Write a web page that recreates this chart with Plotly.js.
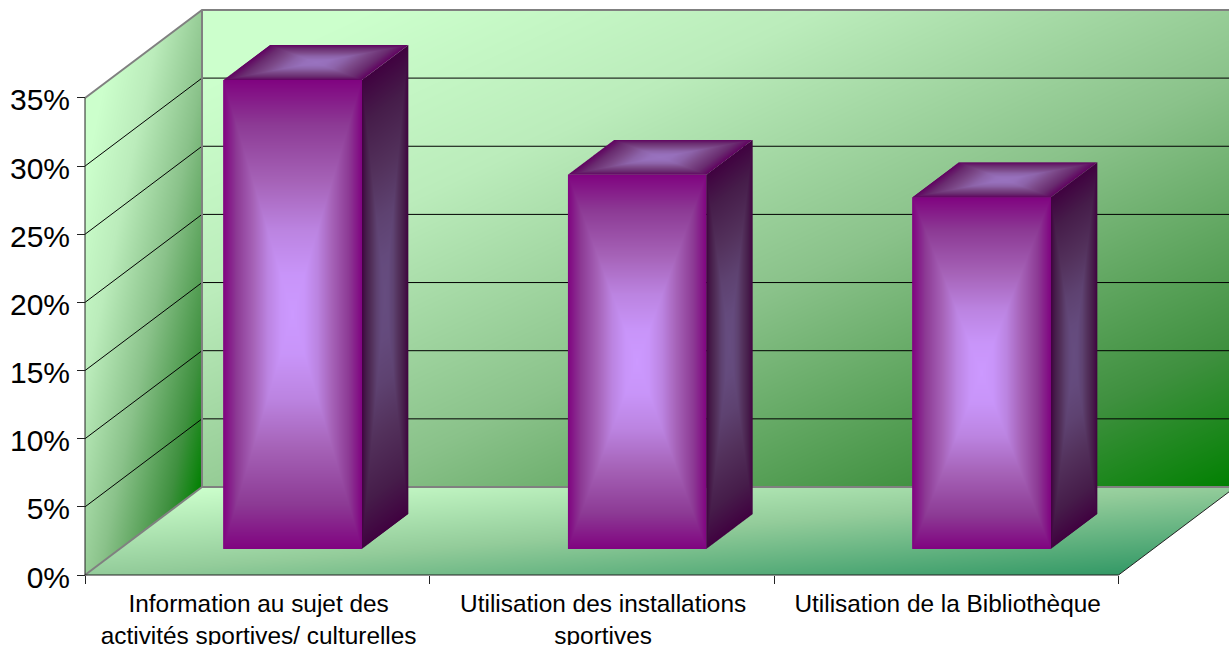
<!DOCTYPE html>
<html>
<head>
<meta charset="utf-8">
<script src="https://cdn.plot.ly/plotly-3.0.1.min.js"></script>
<style>html,body{margin:0;padding:0;background:#fff;overflow:hidden}#chart{width:1229px;height:645px}</style>
</head>
<body>
<div id="chart"></div>
<script>
// ---- data ----
var categories = ["Information au sujet des<br>activités sportives/ culturelles",
                  "Utilisation des installations<br>sportives",
                  "Utilisation de la Bibliothèque"];
var values = [34.4, 27.45, 25.8];
var yTicks = [0, 5, 10, 15, 20, 25, 30, 35];
var yLabels = ["0%", "5%", "10%", "15%", "20%", "25%", "30%", "35%"];
var xBoundaries = [0, 1, 2, 3];

// ---- styles ----
var W = 1229, H = 645;
var x0Px = 85, catPx = 344.5, y0Px = 575, pctPx = 13.63;
var depthDx = 117 / catPx, depthDy = 88 / pctPx;     // oblique offset of the full depth, in axis units
var barWidth = 0.402, barFront = 0.297, barBack = 0.693, barShift = 0.002;
var yMax = 35;
var wallStops = [[0,[204,255,204]],[0.08,[204,255,204]],[0.3,[187,236,187]],[0.57,[138,194,138]],[0.85,[63,144,63]],[1,[0,128,0]]];
var floorStops = [[0,[204,255,204]],[0.5,[147,204,154]],[1,[51,153,102]]];
var barDark = [128,0,128], barLight = [204,153,255];
// share of the light colour per channel, from the centre (0) to the edge (1) of a face
var glowCurve = [[0,[1,1,1]],[0.17,[0.95,0.97,0.95]],[0.36,[0.78,0.86,0.76]],[0.57,[0.49,0.64,0.43]],[0.81,[0.16,0.38,0.16]],[1,[0,0.02,0]]];

function pxX(x){return x0Px + catPx*x;}
function pxY(y){return y0Px - pctPx*y;}
function unX(p){return (p-x0Px)/catPx;}
function unY(p){return (y0Px-p)/pctPx;}
function ramp(stops,t){
  t=Math.max(0,Math.min(1,t));
  for(var i=1;i<stops.length;i++){
    if(t<=stops[i][0]){
      var a=stops[i-1],b=stops[i],f=(t-a[0])/((b[0]-a[0])||1);
      return [0,1,2].map(function(k){return a[1][k]+(b[1][k]-a[1][k])*f;});
    }
  }
  return stops[stops.length-1][1];
}
// A face is a parallelogram: corner o plus edges a and b, in axis units.
function faceImage(o,a,b,colorAt,layer){
  var ox=pxX(o[0]),oy=pxY(o[1]);
  var ax=a[0]*catPx,ay=-a[1]*pctPx,bx=b[0]*catPx,by=-b[1]*pctPx;
  var xs=[ox,ox+ax,ox+bx,ox+ax+bx],ys=[oy,oy+ay,oy+by,oy+ay+by];
  var l=Math.floor(Math.min.apply(null,xs)),r=Math.ceil(Math.max.apply(null,xs));
  var t=Math.floor(Math.min.apply(null,ys)),bt=Math.ceil(Math.max.apply(null,ys));
  var w=r-l,h=bt-t,det=ax*by-ay*bx;
  var cv=document.createElement('canvas');cv.width=w;cv.height=h;
  var ctx=cv.getContext('2d'),img=ctx.createImageData(w,h),d=img.data;
  var sub=[1/6,1/2,5/6];
  for(var j=0;j<h;j++){for(var i=0;i<w;i++){
    var hit=0;
    for(var p=0;p<3;p++)for(var q=0;q<3;q++){
      var dx=l+i+sub[p]-ox,dy=t+j+sub[q]-oy;
      var u=(dx*by-dy*bx)/det,v=(ax*dy-ay*dx)/det;
      if(u>=0&&u<=1&&v>=0&&v<=1)hit++;
    }
    if(!hit)continue;
    var dx2=l+i+0.5-ox,dy2=t+j+0.5-oy;
    var uc=Math.max(0,Math.min(1,(dx2*by-dy2*bx)/det)),vc=Math.max(0,Math.min(1,(ax*dy2-ay*dx2)/det));
    var c=colorAt(uc,vc),n=4*(j*w+i);
    d[n]=c[0];d[n+1]=c[1];d[n+2]=c[2];d[n+3]=Math.round(255*hit/9);
  }}
  ctx.putImageData(img,0,0);
  return {source:cv.toDataURL('image/png'),xref:'x',yref:'y',x:unX(l),y:unY(t),
          sizex:w/catPx,sizey:h/pctPx,xanchor:'left',yanchor:'top',sizing:'stretch',layer:layer,opacity:1};
}
function centerGlow(mult){
  return function(u,v){
    var m=ramp(glowCurve,Math.max(Math.abs(2*u-1),Math.abs(2*v-1)));
    return [0,1,2].map(function(i){return (barDark[i]+(barLight[i]-barDark[i])*m[i])*mult;});
  };
}

var images=[];
// floor: o = back-left, a = along x, b = towards the viewer
images.push(faceImage([depthDx,depthDy],[3,0],[-depthDx,-depthDy],function(u,v){return ramp(floorStops,(u+v)/2);},'below'));
// back wall
images.push(faceImage([depthDx,yMax+depthDy],[3,0],[0,-yMax],function(u,v){return ramp(wallStops,(u+v)/2);},'below'));
// left wall
images.push(faceImage([0,yMax],[depthDx,depthDy],[0,-yMax],function(u,v){return ramp(wallStops,(u+v)/2);},'below'));

// bars
var barX=values.map(function(_,i){return i+0.5+barShift+barFront*depthDx;});
var barBase=values.map(function(){return barFront*depthDy;});
var dd=barBack-barFront;
values.forEach(function(val,i){
  var lx=i+0.5+barShift-barWidth/2+barFront*depthDx, by=barFront*depthDy;
  images.push(faceImage([lx,by+val],[barWidth,0],[0,-val],centerGlow(1),'above'));
  images.push(faceImage([lx+barWidth,by+val],[dd*depthDx,dd*depthDy],[0,-val],centerGlow(0.5),'above'));
  images.push(faceImage([lx+dd*depthDx,by+val+dd*depthDy],[barWidth,0],[-dd*depthDx,-dd*depthDy],centerGlow(0.75),'above'));
});

// gridlines
var gx=[],gy=[];
yTicks.slice(1,-1).forEach(function(v){
  gx.push(0,depthDx,3+depthDx,null);gy.push(v,v+depthDy,v+depthDy,null);
});
function line(xs,ys,color,width){
  return {type:'scatter',mode:'lines',x:xs,y:ys,line:{color:color,width:width},hoverinfo:'skip',showlegend:false};
}
var traces=[
  line(gx,gy,'#000000',1),
  // grey frame of the walls and the floor
  line([0,depthDx,3+depthDx,null,depthDx,depthDx,3+depthDx,null,0,depthDx],
       [yMax,yMax+depthDy,yMax+depthDy,null,yMax+depthDy,depthDy,depthDy,null,0,depthDy],'#808080',2),
  // axis lines and the right edge of the floor
  line([0,0,null,0,3,3+depthDx],[0,yMax,null,0,0,depthDy],'#222222',1),
  {type:'bar',xaxis:'x2',yaxis:'y',x:barX,y:values,base:barBase,width:barWidth,
   marker:{color:'#800080',line:{width:0}},hoverinfo:'skip',showlegend:false}
];

var xr=[unX(0),unX(W)], yr=[unY(H),unY(0)];
var xPos=(H-y0Px)/H, yPos=x0Px/W;
var layout={
  width:W,height:H,margin:{l:0,r:0,t:0,b:0},paper_bgcolor:'#ffffff',plot_bgcolor:'#ffffff',
  showlegend:false,hovermode:false,images:images,
  font:{family:'"Liberation Sans",Arial,sans-serif',color:'#000000'},
  xaxis:{domain:[0,1],range:xr,anchor:'free',position:xPos,side:'bottom',tickmode:'array',
         tickvals:xBoundaries,ticktext:xBoundaries.map(function(){return '';}),showticklabels:false,
         ticks:'outside',ticklen:8,tickwidth:1,tickcolor:'#222222',showgrid:false,zeroline:false,showline:false},
  xaxis2:{domain:[0,1],range:xr,overlaying:'x',anchor:'free',position:xPos,side:'bottom',tickmode:'array',
         tickvals:[0.504,1.504,2.504],ticktext:categories,tickfont:{size:24.4,color:'#000000'},tickangle:0,
         ticks:'',ticklabelstandoff:12,showgrid:false,zeroline:false,showline:false},
  yaxis:{domain:[0,1],range:yr,anchor:'free',position:yPos,side:'left',tickmode:'array',
         tickvals:yTicks,ticktext:yLabels,tickfont:{size:30,color:'#000000'},ticklabelshift:2,ticklabelstandoff:1,
         ticks:'outside',ticklen:8,tickwidth:1,tickcolor:'#222222',showgrid:false,zeroline:false,showline:false}
};
Plotly.newPlot('chart',traces,layout,{displayModeBar:false,responsive:false});
</script>
</body>
</html>
